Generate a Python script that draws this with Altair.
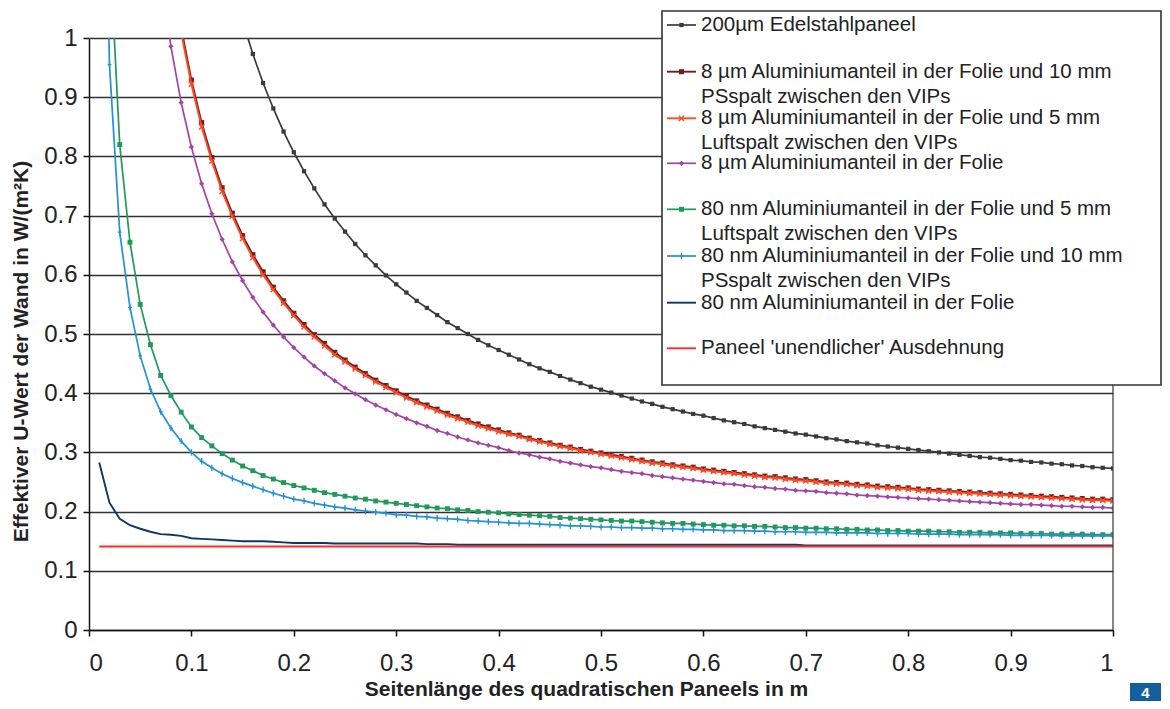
import altair as alt
import pandas as pd

# x positions: sampled every 0.01 m (marker spacing in the picture)
X = [round(i / 100, 2) for i in range(1, 101)]

# --- series values, each starting at X index start ---
black_start = 15
black_vals = [1.029, 0.973, 0.924, 0.881, 0.842, 0.807, 0.775, 0.746, 0.719, 0.695,
              0.673, 0.652, 0.633, 0.616, 0.599, 0.584, 0.570, 0.556, 0.544, 0.532,
              0.520, 0.510, 0.500, 0.490, 0.481, 0.473, 0.465, 0.457, 0.449, 0.442,
              0.436, 0.429, 0.423, 0.417, 0.411, 0.406, 0.401, 0.396, 0.391, 0.386,
              0.382, 0.377, 0.373, 0.369, 0.365, 0.362, 0.358, 0.354, 0.351, 0.348,
              0.344, 0.341, 0.338, 0.335, 0.332, 0.330, 0.327, 0.324, 0.322, 0.319,
              0.317, 0.315, 0.312, 0.310, 0.308, 0.306, 0.304, 0.302, 0.300, 0.298,
              0.296, 0.294, 0.292, 0.291, 0.289, 0.287, 0.286, 0.284, 0.283, 0.281,
              0.280, 0.278, 0.277, 0.275, 0.274, 0.273]

maroon_start = 9
maroon_vals = [1.017,
               0.929, 0.857, 0.798, 0.747, 0.704, 0.666, 0.634, 0.605, 0.579, 0.556,
               0.535, 0.516, 0.499, 0.484, 0.469, 0.456, 0.444, 0.433, 0.422, 0.413,
               0.404, 0.395, 0.387, 0.380, 0.373, 0.366, 0.360, 0.354, 0.348, 0.343,
               0.338, 0.333, 0.329, 0.324, 0.320, 0.316, 0.312, 0.309, 0.305, 0.302,
               0.299, 0.296, 0.293, 0.290, 0.287, 0.284, 0.282, 0.279, 0.277, 0.275,
               0.272, 0.270, 0.268, 0.266, 0.264, 0.262, 0.260, 0.259, 0.257, 0.255,
               0.254, 0.252, 0.250, 0.249, 0.248, 0.246, 0.245, 0.243, 0.242, 0.241,
               0.240, 0.238, 0.237, 0.236, 0.235, 0.234, 0.233, 0.232, 0.231, 0.230,
               0.229, 0.228, 0.227, 0.226, 0.225, 0.224, 0.223, 0.222, 0.221, 0.221,
               0.220]

red_start = 9
red_vals = [1.009,
            0.922, 0.850, 0.792, 0.741, 0.699, 0.661, 0.629, 0.600, 0.575, 0.552,
            0.531, 0.512, 0.495, 0.480, 0.465, 0.453, 0.441, 0.430, 0.419, 0.410,
            0.401, 0.392, 0.384, 0.377, 0.370, 0.363, 0.357, 0.351, 0.345, 0.340,
            0.335, 0.331, 0.327, 0.322, 0.318, 0.314, 0.310, 0.307, 0.303, 0.300,
            0.297, 0.294, 0.291, 0.288, 0.285, 0.282, 0.280, 0.277, 0.275, 0.273,
            0.270, 0.268, 0.266, 0.264, 0.262, 0.260, 0.258, 0.257, 0.255, 0.253,
            0.252, 0.250, 0.248, 0.247, 0.246, 0.244, 0.243, 0.241, 0.240, 0.239,
            0.238, 0.236, 0.235, 0.234, 0.233, 0.232, 0.231, 0.230, 0.229, 0.228,
            0.227, 0.226, 0.225, 0.224, 0.223, 0.222, 0.221, 0.220, 0.219, 0.219,
            0.218]

purple_start = 7
purple_vals = [1.107, 0.986, 0.891,
               0.816, 0.754, 0.703, 0.660, 0.622, 0.590, 0.562, 0.537, 0.515, 0.495,
               0.477, 0.461, 0.446, 0.433, 0.421, 0.409, 0.399, 0.389, 0.380, 0.372,
               0.364, 0.357, 0.350, 0.344, 0.337, 0.332, 0.326, 0.321, 0.316, 0.312,
               0.308, 0.303, 0.299, 0.296, 0.292, 0.289, 0.285, 0.282, 0.279, 0.276,
               0.274, 0.271, 0.268, 0.266, 0.264, 0.261, 0.259, 0.257, 0.255, 0.253,
               0.251, 0.249, 0.247, 0.246, 0.244, 0.242, 0.241, 0.239, 0.238, 0.236,
               0.235, 0.234, 0.232, 0.231, 0.230, 0.228, 0.227, 0.226, 0.225, 0.224,
               0.223, 0.222, 0.221, 0.220, 0.219, 0.218, 0.217, 0.216, 0.215, 0.214,
               0.213, 0.212, 0.212, 0.211, 0.210, 0.209, 0.209, 0.208, 0.207, 0.207,
               0.206]

green_start = 2
green_vals = [1.16, 0.82, 0.655, 0.55, 0.482, 0.430, 0.396, 0.368,
              0.343, 0.325, 0.311, 0.298, 0.287, 0.277, 0.269, 0.261, 0.255, 0.249,
              0.244, 0.240, 0.236, 0.232, 0.229, 0.226, 0.223, 0.221, 0.218, 0.216,
              0.214, 0.212, 0.210, 0.208, 0.206, 0.205, 0.203, 0.202, 0.200, 0.199,
              0.198, 0.196, 0.195, 0.194, 0.193, 0.192, 0.190, 0.189, 0.188, 0.187,
              0.186, 0.185, 0.184, 0.184, 0.183, 0.182, 0.181, 0.180, 0.180, 0.179,
              0.178, 0.177, 0.177, 0.176, 0.176, 0.175, 0.175, 0.174, 0.173, 0.173,
              0.172, 0.172, 0.171, 0.171, 0.170, 0.170, 0.169, 0.169, 0.168, 0.168,
              0.167, 0.167, 0.167, 0.166, 0.166, 0.165, 0.165, 0.165, 0.164, 0.164,
              0.164, 0.163, 0.163, 0.163, 0.162, 0.162, 0.162, 0.162, 0.161, 0.161,
              0.161]

blue_start = 1
blue_vals = [1.75, 0.955, 0.672, 0.545, 0.463, 0.407, 0.369, 0.341, 0.319,
             0.300, 0.285, 0.274, 0.264, 0.256, 0.249, 0.243, 0.237, 0.231, 0.226,
             0.221, 0.218, 0.214, 0.211, 0.208, 0.206, 0.203, 0.201, 0.199, 0.197,
             0.195, 0.194, 0.192, 0.191, 0.189, 0.188, 0.187, 0.185, 0.184, 0.183,
             0.182, 0.181, 0.180, 0.180, 0.179, 0.178, 0.177, 0.176, 0.176, 0.175,
             0.174, 0.174, 0.173, 0.173, 0.172, 0.172, 0.171, 0.171, 0.170, 0.170,
             0.169, 0.169, 0.168, 0.168, 0.168, 0.167, 0.167, 0.166, 0.166, 0.166,
             0.165, 0.165, 0.165, 0.164, 0.164, 0.164, 0.164, 0.163, 0.163, 0.163,
             0.163, 0.162, 0.162, 0.162, 0.162, 0.161, 0.161, 0.161, 0.161, 0.161,
             0.160, 0.160, 0.160, 0.160, 0.160, 0.159, 0.159, 0.159, 0.159, 0.159,
             0.159]

navy_start = 1
navy_vals = [0.283, 0.215, 0.188, 0.177, 0.171, 0.166, 0.162, 0.161, 0.159,
             0.155, 0.154, 0.153, 0.152, 0.151, 0.150, 0.150, 0.150, 0.149, 0.148,
             0.147, 0.147, 0.147, 0.147, 0.146, 0.146, 0.146, 0.146, 0.146, 0.146,
             0.146, 0.146, 0.146, 0.145, 0.145, 0.145, 0.144, 0.144, 0.144, 0.144,
             0.144, 0.144, 0.144, 0.144, 0.144, 0.144, 0.144, 0.144, 0.144, 0.144,
             0.144, 0.144, 0.144, 0.144, 0.144, 0.144, 0.144, 0.144, 0.144, 0.144,
             0.144, 0.144, 0.144, 0.144, 0.144, 0.144, 0.144, 0.144, 0.144, 0.144,
             0.143, 0.143, 0.143, 0.143, 0.143, 0.143, 0.143, 0.143, 0.143, 0.143,
             0.143, 0.143, 0.143, 0.143, 0.143, 0.143, 0.143, 0.143, 0.143, 0.143,
             0.143, 0.143, 0.143, 0.143, 0.143, 0.143, 0.143, 0.143, 0.143, 0.143,
             0.143]

inf_x = [0.01, 1.0]
inf_vals = [0.141, 0.141]

legend_items = [
    ["200µm Edelstahlpaneel"],
    ["8 µm Aluminiumanteil in der Folie und 10 mm", "PSspalt zwischen den VIPs"],
    ["8 µm Aluminiumanteil in der Folie und 5 mm", "Luftspalt zwischen den VIPs"],
    ["8 µm Aluminiumanteil in der Folie"],
    ["80 nm Aluminiumanteil in der Folie und 5 mm", "Luftspalt zwischen den VIPs"],
    ["80 nm Aluminiumanteil in der Folie und 10 mm", "PSspalt zwischen den VIPs"],
    ["80 nm Aluminiumanteil in der Folie"],
    ["Paneel 'unendlicher' Ausdehnung"],
]

x_ticks = [0, 0.1, 0.2, 0.3, 0.4, 0.5, 0.6, 0.7, 0.8, 0.9, 1.0]
y_ticks = [0, 0.1, 0.2, 0.3, 0.4, 0.5, 0.6, 0.7, 0.8, 0.9, 1.0]

# ---------------- styling ----------------
W, H = 1024, 592
FONT = "Liberation Sans"
TXT = "#222222"

X_PATH = "M-1,-1L1,1M-1,1L1,-1"
PLUS_PATH = "M0,-1L0,1M-0.6,0L0.6,0"

series = [
    # vals, start, color, line width, marker spec
    (black_vals, black_start, "#3a3a3a", 1.7, dict(shape="square", filled=True, size=18)),
    (maroon_vals, maroon_start, "#6d1f1f", 1.9, dict(shape="square", filled=True, size=26)),
    (red_vals, red_start, "#ff4a26", 1.9, dict(shape=X_PATH, filled=False, size=28, strokeWidth=1.4)),
    (purple_vals, purple_start, "#a345a8", 1.7, dict(shape="diamond", filled=True, size=28)),
    (green_vals, green_start, "#21995a", 1.7, dict(shape="square", filled=True, size=24)),
    (blue_vals, blue_start, "#2391d6", 1.7, dict(shape=PLUS_PATH, filled=False, size=40, strokeWidth=1.3)),
    (navy_vals, navy_start, "#0c3866", 1.9, None),
]

x_enc = alt.X("x:Q", scale=alt.Scale(domain=[0, 1], nice=False, zero=False),
              axis=alt.Axis(values=x_ticks, format=".1~f", grid=False,
                            title="Seitenlänge des quadratischen Paneels in m",
                            titleX=497, titleY=59, titleBaseline="middle",
                            titleAlign="center", labelPadding=15))
y_enc = alt.Y("y:Q", scale=alt.Scale(domain=[0, 1], nice=False, zero=False),
              axis=alt.Axis(values=y_ticks, format=".1~f", grid=True,
                            title="Effektiver U-Wert der Wand in W/(m²K)",
                            titleX=-68, titleY=313, titleBaseline="middle",
                            titleAlign="center", titleAngle=270, labelPadding=6))

layers = []
for vals, start, color, lw, marker in series:
    df = pd.DataFrame({"x": X[start - 1:start - 1 + len(vals)], "y": vals})
    base = alt.Chart(df)
    layers.append(base.mark_line(color=color, strokeWidth=lw, clip=True).encode(x=x_enc, y=y_enc))
    if marker is not None:
        layers.append(base.mark_point(color=color, opacity=1, clip=True, **marker).encode(x=x_enc, y=y_enc))

inf_df = pd.DataFrame({"x": inf_x, "y": inf_vals})
layers.append(alt.Chart(inf_df).mark_line(color="#ff2a2a", strokeWidth=1.9, clip=True).encode(x=x_enc, y=y_enc))

one = pd.DataFrame({"k": [0]})

# right plot border
layers.append(alt.Chart(one).mark_rule(color="#444444", strokeWidth=1.3).encode(
    x=alt.value(W), y=alt.value(0), y2=alt.value(H)))

# legend box
LX0, LX1, LY0, LY1 = 573, 1072, -27, 347
layers.append(alt.Chart(one).mark_rect(fill="white", stroke="#333333", strokeWidth=1.6).encode(
    x=alt.value(LX0), x2=alt.value(LX1), y=alt.value(LY0), y2=alt.value(LY1)))

row_y = [[-13], [33.7, 58.7], [80.3, 105.3], [125.3], [171.3, 196.3], [218, 243], [264.7], [310.3]]
sym_specs = [s[2:] for s in series] + [("#ff2a2a", 1.9, None)]
for item, ys, (color, lw, marker) in zip(legend_items, row_y, sym_specs):
    layers.append(alt.Chart(one).mark_rule(color=color, strokeWidth=lw).encode(
        x=alt.value(578), x2=alt.value(607), y=alt.value(ys[0])))
    if marker is not None:
        layers.append(alt.Chart(one).mark_point(color=color, opacity=1, **marker).encode(
            x=alt.value(592.5), y=alt.value(ys[0])))
    for line, yy in zip(item, ys):
        layers.append(alt.Chart(pd.DataFrame({"t": [line]})).mark_text(
            align="left", baseline="middle", font=FONT, fontSize=20.5, color=TXT).encode(
            x=alt.value(612), y=alt.value(yy), text="t:N"))

# page-number badge
layers.append(alt.Chart(one).mark_rect(fill="#145f9e").encode(
    x=alt.value(1041), x2=alt.value(1072), y=alt.value(645), y2=alt.value(663)))
layers.append(alt.Chart(pd.DataFrame({"t": ["4"]})).mark_text(
    align="center", baseline="middle", font=FONT, fontSize=15, fontWeight="bold", color="white").encode(
    x=alt.value(1056.5), y=alt.value(655), text="t:N"))

chart = alt.layer(*layers).properties(
    width=W, height=H,
    autosize=alt.AutoSizeParams(type="none"),
    padding={"left": 81, "top": 30, "right": 49, "bottom": 71},
    background="white",
).configure_view(strokeWidth=0).configure_axis(
    labelFont=FONT, labelFontSize=24, labelColor=TXT,
    titleFont=FONT, titleFontSize=21, titleFontWeight="bold", titleColor=TXT,
    domainColor="#111111", domainWidth=1.5,
    tickColor="#111111", tickWidth=1.5, tickSize=6,
    gridColor="#333333", gridWidth=1.4,
)

chart.save("out.html", embed_options={"renderer": "svg", "actions": False})
